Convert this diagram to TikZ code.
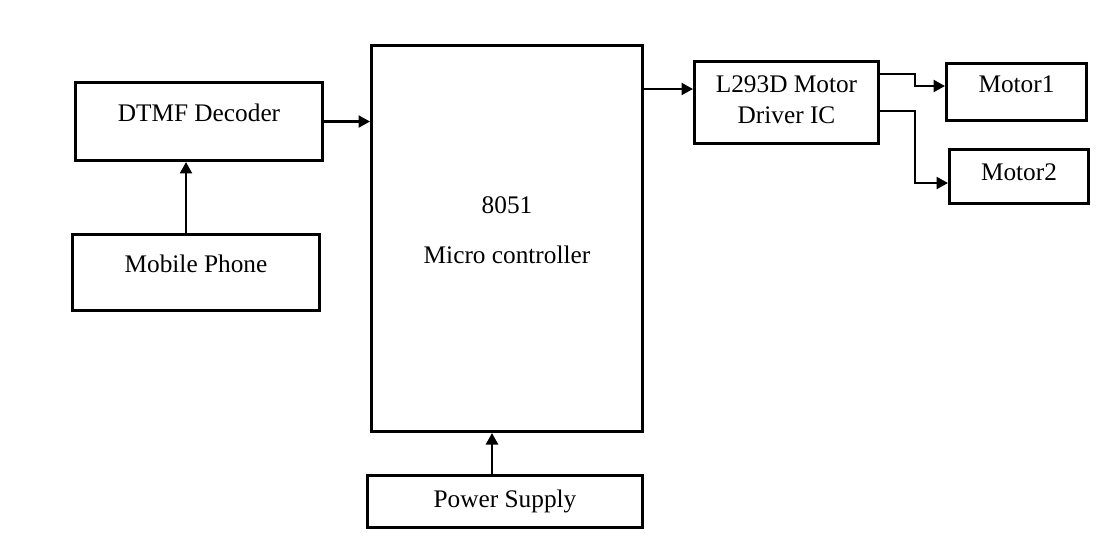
\documentclass[tikz,border=0pt]{standalone}
\usepackage{fontspec}
\setmainfont{Liberation Serif}
\usepackage{tikz}
\usetikzlibrary{arrows.meta,calc}
\tikzset{>={Triangle[length=2.3mm,width=2.4mm]}}
\tikzset{
  blk/.style={draw,line width=1.7pt,inner sep=0pt,align=center,
    font=\fontsize{14.4}{17.1}\selectfont},
  oneline/.style={text height=0pt,text depth=0pt},
  wire/.style={line width=1.3pt}
}

\begin{document}
\begin{tikzpicture}[x=0.2mm,y=-0.2mm]
\useasboundingbox (0,0) rectangle (1111,546);
\node[blk,oneline,minimum width=49.4mm,minimum height=15.6mm] (dtmf) at (199,121.5) {DTMF Decoder};
\node[blk,oneline,minimum width=49.4mm,minimum height=15.2mm] (mobile) at (196,272.5) {Mobile Phone};
\node[blk,text height=9.8mm,text depth=0pt,minimum width=54.2mm,minimum height=77.2mm] (micro) at (507,238.5) {8051\\[11.3pt]Micro controller};
\node[blk,text height=2.2mm,text depth=0pt,minimum width=55mm,minimum height=10.4mm] (power) at (505,501.5) {Power Supply};
\node[blk,text height=8.2mm,text depth=0pt,minimum width=36.8mm,minimum height=16.4mm] (driver) at (786.5,102.5) {L293D Motor\\Driver IC};
\node[blk,oneline,minimum width=28mm,minimum height=11.4mm] (motor1) at (1016.5,92) {Motor1};
\node[blk,text height=1.4mm,text depth=0pt,minimum width=27.8mm,minimum height=10.8mm] (motor2) at (1019,176.5) {Motor2};
\coordinate (ph) at ([xshift=-2mm]mobile.north);
\coordinate (ps) at ([xshift=-2.6mm]power.north);
\coordinate (drvin) at ([yshift=2.7mm]driver.west);
\coordinate (o1) at ([yshift=5.7mm]driver.east);
\coordinate (o2) at ([yshift=-1.7mm]driver.east);
\coordinate (m1in) at ([yshift=1.2mm]motor1.west);
\coordinate (m2in) at ([yshift=-1.3mm]motor2.west);
\draw[wire,->] (ph) -- (ph |- dtmf.south);
\draw[wire,->] (dtmf.east) -- (dtmf.east -| micro.west);
\draw[wire,->] (ps) -- (ps |- micro.south);
\draw[wire,->] (drvin -| micro.east) -- (drvin);
\draw[wire,->] (o1) -- ++(7mm,0) |- (m1in);
\draw[wire,->] (o2) -- ++(7mm,0) |- (m2in);
\end{tikzpicture}
\end{document}
